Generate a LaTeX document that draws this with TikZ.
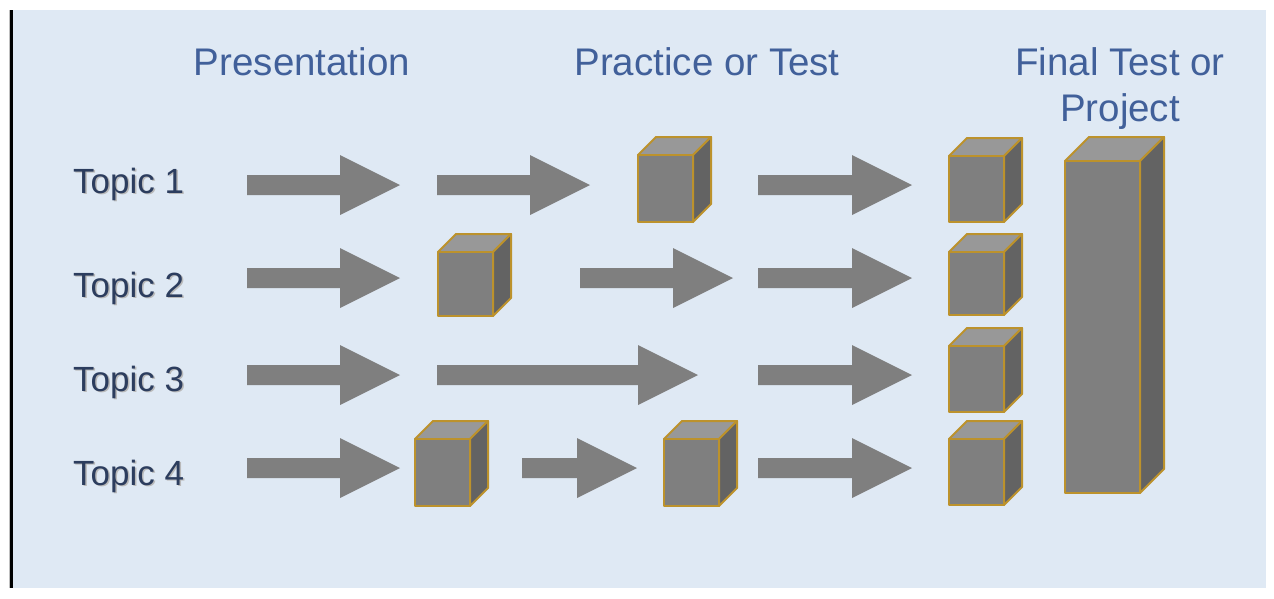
\documentclass[tikz,border=0pt]{standalone}
\usepackage{fontspec}
\setmainfont{Liberation Sans}
\definecolor{bgblue}{HTML}{DFE9F4}
\definecolor{headblue}{HTML}{41609A}
\definecolor{topicnavy}{HTML}{2C3D5E}
\definecolor{arrowgray}{HTML}{7F7F7F}
\definecolor{frontgray}{HTML}{7F7F7F}
\definecolor{topgray}{HTML}{989898}
\definecolor{sidegray}{HTML}{636363}
\definecolor{cubegold}{HTML}{BC922C}
\tikzset{
  heading/.style={text=headblue, font=\fontsize{38.5}{44}\selectfont, align=center, inner sep=0pt},
  topiclabel/.style={text=topicnavy, font=\fontsize{35}{40}\selectfont, anchor=west, inner sep=0pt},
  topicshadow/.style={text=gray!55, font=\fontsize{35}{40}\selectfont, anchor=west, inner sep=0pt},
  blockarrow/.style={fill=arrowgray, draw=none},
  cubeface/.style={draw=cubegold, line width=2pt, line join=round},
}
% \myarrow{x start}{x tip}{y centre}
\newcommand{\myarrow}[3]{%
  \fill[blockarrow] (#1,#3-10) -- (#2-60,#3-10) -- (#2-60,#3-30) -- (#2,#3)
    -- (#2-60,#3+30) -- (#2-60,#3+10) -- (#1,#3+10) -- cycle;}
% \mycube{front left}{front top}{width}{height}{depth}
\newcommand{\mycube}[5]{%
  \filldraw[cubeface, fill=topgray] (#1,#2) -- (#1+#5,#2-#5) -- (#1+#3+#5,#2-#5) -- (#1+#3,#2) -- cycle;
  \filldraw[cubeface, fill=sidegray] (#1+#3,#2) -- (#1+#3+#5,#2-#5) -- (#1+#3+#5,#2+#4-#5) -- (#1+#3,#2+#4) -- cycle;
  \filldraw[cubeface, fill=frontgray] (#1,#2) rectangle (#1+#3,#2+#4);}
\begin{document}
\begin{tikzpicture}[x=1pt, y=-1pt]
\useasboundingbox (0,0) rectangle (1274,598);
\fill[white] (0,0) rectangle (1274,598);
\fill[bgblue] (12,10) rectangle (1266,588);
\draw[black, line width=3pt] (11.5,10) -- (11.5,588);
\draw[gray!50, line width=1pt] (9,10) -- (9,588);

% headings
\node[heading] (hpres) at (302,62) {Presentation};
\node[heading] (hprac) at (707,62) {Practice or Test};
\node[heading, font=\fontsize{38.5}{46}\selectfont] (hfinal) at (1120,89) {Final Test or\\Project};

% topic labels
\foreach \t/\y in {1/184, 2/288, 3/382, 4/476} {
  \node[topicshadow] at (74.5,\y+1.5) {Topic \t};
  \node[topiclabel] (topic\t) at (73,\y) {Topic \t};
}

% row 1
\myarrow{247}{400}{185}
\myarrow{437}{590}{185}
\myarrow{758}{912}{185}
\mycube{638}{155}{55}{67}{18}
\mycube{949}{156}{55}{66}{18}

% row 2
\myarrow{247}{400}{278}
\myarrow{580}{733}{278}
\myarrow{758}{912}{278}
\mycube{438}{252}{55}{64}{18}
\mycube{949}{252}{55}{63}{18}

% row 3
\myarrow{247}{400}{375}
\myarrow{437}{698}{375}
\myarrow{758}{912}{375}
\mycube{949}{346}{55}{66}{18}

% row 4
\myarrow{247}{400}{468}
\myarrow{522}{637}{468}
\myarrow{758}{912}{468}
\mycube{415}{439}{55}{67}{18}
\mycube{664}{439}{55}{67}{18}
\mycube{949}{439}{55}{66}{18}

% tall final box
\mycube{1065}{161}{75}{332}{24}
\end{tikzpicture}
\end{document}
